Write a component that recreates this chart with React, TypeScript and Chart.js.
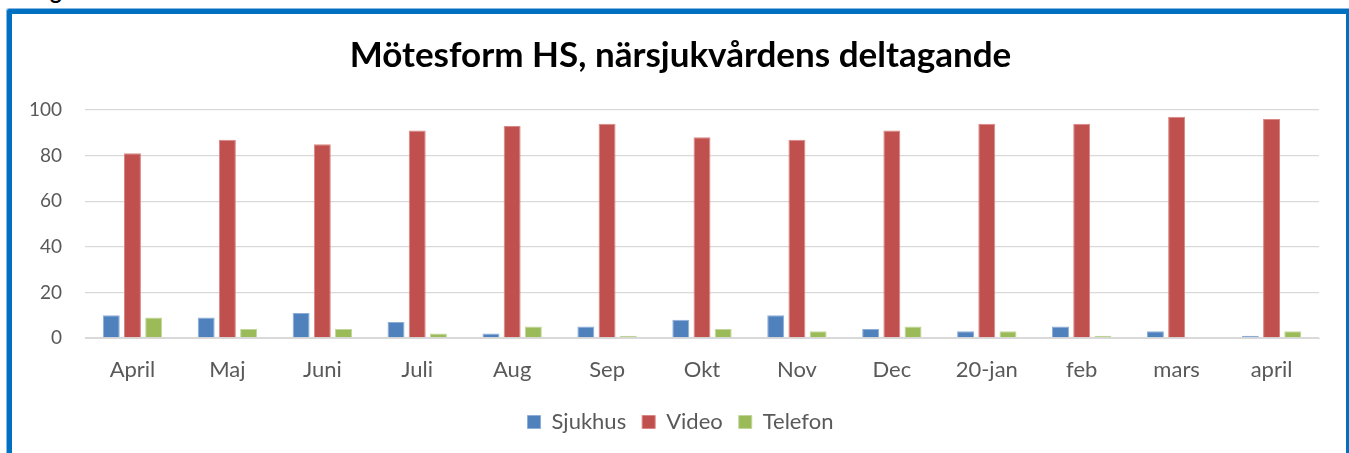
import React, { useEffect, useRef } from "react";
import { Chart, registerables } from "chart.js";

Chart.register(...registerables);

const categories = ["April", "Maj", "Juni", "Juli", "Aug", "Sep", "Okt", "Nov", "Dec", "20-jan", "feb", "mars", "april"];
const sjukhus = [10, 9, 11, 7, 2, 5, 8, 10, 4, 3, 5, 3, 1];
const video = [81, 87, 85, 91, 93, 94, 88, 87, 91, 94, 94, 97, 96];
const telefon = [9, 4, 4, 2, 5, 1, 4, 3, 5, 3, 1, 0, 3];
const seriesNames = ["Sjukhus", "Video", "Telefon"];
const chartTitle = "Mötesform HS, närsjukvårdens deltagande";

// widen the y-axis label clip region so labels may extend into layout padding
const widenLabelClip = {
  id: "widenLabelClip",
  afterLayout(chart: any) {
    const y = chart.scales.y;
    if (y) y.left = 0;
  },
};

export default function App() {
  const ref = useRef<HTMLCanvasElement | null>(null);

  useEffect(() => {
    document.body.style.margin = "0";
    document.body.style.overflow = "hidden";
    if (!ref.current) return;
    const font = "Lato, 'Open Sans', sans-serif";
    const chart = new Chart(ref.current, {
      type: "bar",
      data: {
        labels: categories,
        datasets: [
          { label: seriesNames[0], data: sjukhus, backgroundColor: "#4F81BD", borderColor: "#8EAEDA", borderWidth: 1 },
          { label: seriesNames[1], data: video, backgroundColor: "#C0504D", borderColor: "#D98784", borderWidth: 1 },
          { label: seriesNames[2], data: telefon, backgroundColor: "#9BBB59", borderColor: "#C1D79A", borderWidth: 1 },
        ],
      },
      plugins: [widenLabelClip],
      options: {
        responsive: false,
        animation: false,
        devicePixelRatio: 1,
        layout: { padding: { left: 30, right: 27, top: 0, bottom: 10 } },
        datasets: { bar: { categoryPercentage: 0.67, barPercentage: 0.8 } },
        plugins: {
          tooltip: { enabled: false },
          title: {
            display: true,
            text: chartTitle,
            color: "#000000",
            font: { family: font, size: 35, weight: "bold" },
            padding: { top: 21, bottom: 33 },
          },
          legend: {
            position: "bottom",
            labels: {
              boxWidth: 13,
              boxHeight: 13,
              padding: 16,
              color: "#595959",
              font: { family: font, size: 22 },
            },
          },
        },
        scales: {
          x: {
            grid: { display: false, drawTicks: false },
            border: { display: true, color: "#D9D9D9", width: 1 },
            ticks: { color: "#595959", font: { family: font, size: 22 }, padding: 19 },
            afterFit: (scale: any) => {
              scale.height = 57;
            },
          },
          y: {
            min: 0,
            max: 100,
            ticks: { stepSize: 20, color: "#595959", font: { family: font, size: 19 }, padding: 23 },
            grid: { color: "#D9D9D9", lineWidth: 1.3, drawTicks: false },
            border: { display: false },
            afterFit: (scale: any) => {
              scale.width = 43;
            },
          },
        },
      },
    });
    return () => chart.destroy();
  }, []);

  return (
    <div style={{ position: "fixed", left: 0, top: 0, width: "100vw", height: "100vh", overflow: "hidden", background: "#fff" }}>
      <div
        style={{
          position: "absolute",
          left: 32,
          top: -22,
          font: "bold 22px Lato, sans-serif",
          lineHeight: "26px",
          color: "#000",
          whiteSpace: "nowrap",
        }}
      >
        Figur
      </div>
      <div
        style={{
          position: "absolute",
          left: 7,
          top: 9,
          width: 1334,
          height: 460,
          border: "5px solid #0070C0",
          borderRadius: 2,
          boxShadow: "0 0 0 1px #8AB8E4",
        }}
      >
        <canvas ref={ref} width={1334} height={439} style={{ display: "block", width: 1334, height: 439 }} />
      </div>
    </div>
  );
}
